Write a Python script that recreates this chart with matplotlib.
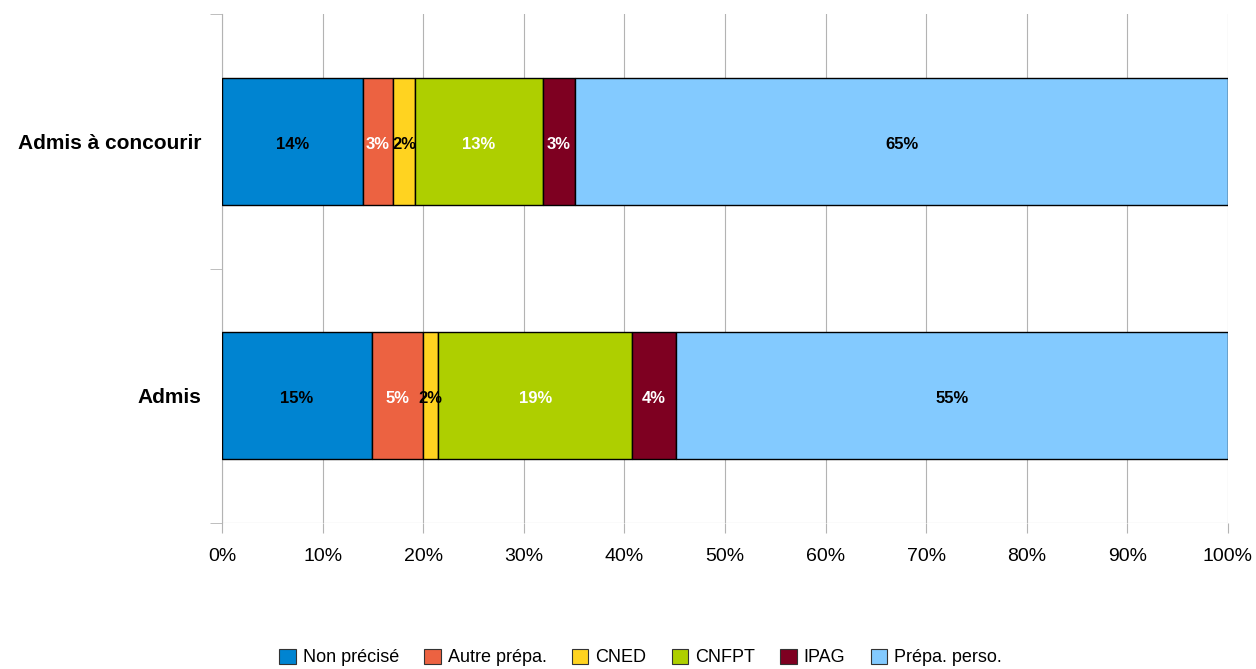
import numpy as np
import matplotlib.pyplot as plt
from matplotlib.patches import Patch

plt.rcParams['font.family'] = ['Liberation Sans', 'DejaVu Sans']

categories = ["Admis", "Admis à concourir"]
series = ["Non précisé", "Autre prépa.", "CNED", "CNFPT", "IPAG", "Prépa. perso."]
# percentages per series, order follows categories
values = {
    "Non précisé": [14.9, 14.0],
    "Autre prépa.": [5.1, 3.0],
    "CNED": [1.5, 2.2],
    "CNFPT": [19.3, 12.7],
    "IPAG": [4.3, 3.2],
    "Prépa. perso.": [54.9, 64.9],
}
colors = ["#0084d1", "#ec6241", "#ffd320", "#aecf00", "#7e0021", "#83caff"]
label_colors = ["black", "white", "black", "white", "white", "black"]


def plot_data():
    fig = plt.figure(figsize=(12.56, 6.69), dpi=100)
    ax = fig.add_axes([0.1768, 0.2182, 0.8009, 0.7609])
    y = np.arange(len(categories))
    left = np.zeros(len(categories))
    for name, col, lcol in zip(series, colors, label_colors):
        vals = np.array(values[name])
        ax.barh(y, vals, left=left, height=0.5, color=col, edgecolor="black",
                linewidth=1.0, zorder=3)
        for yi, v, l in zip(y, vals, left):
            ax.text(l + v / 2, yi - 0.012, "%d%%" % int(v + 0.5), ha="center", va="center",
                    fontsize=12, fontweight="bold", color=lcol, zorder=4)
        left += vals

    ax.set_xlim(0, 100)
    ax.set_ylim(-0.5, 1.5)
    ax.set_xticks(np.arange(0, 101, 10))
    ax.set_xticklabels(["%d%%" % t for t in range(0, 101, 10)], fontsize=14)
    ax.set_yticks(y)
    ax.set_yticklabels(categories, fontsize=15, fontweight="bold")
    ax.set_yticks([-0.5, 0.5, 1.5], minor=True)
    ax.tick_params(axis="y", which="major", length=0, pad=15)
    ax.tick_params(axis="y", which="minor", length=9, color="#b3b3b3")
    ax.tick_params(axis="x", length=7, color="#b3b3b3", pad=11)
    ax.grid(axis="x", color="#b3b3b3", linewidth=0.8, zorder=0)
    for s in ["top", "right", "bottom"]:
        ax.spines[s].set_visible(False)
    ax.spines["left"].set_color("#b3b3b3")
    ax.axhline(-0.5, color="#b3b3b3", linewidth=0.8, zorder=1)

    handles = [Patch(facecolor=c, edgecolor="#333333", linewidth=0.8) for c in colors]
    fig.legend(handles, series, loc="center", bbox_to_anchor=(0.51, 0.017),
               ncol=6, frameon=False, fontsize=13, handlelength=0.9,
               handleheight=0.9, handletextpad=0.4, columnspacing=1.4)
    fig.savefig("out.png", dpi=100)


if __name__ == '__main__':
    plot_data()
